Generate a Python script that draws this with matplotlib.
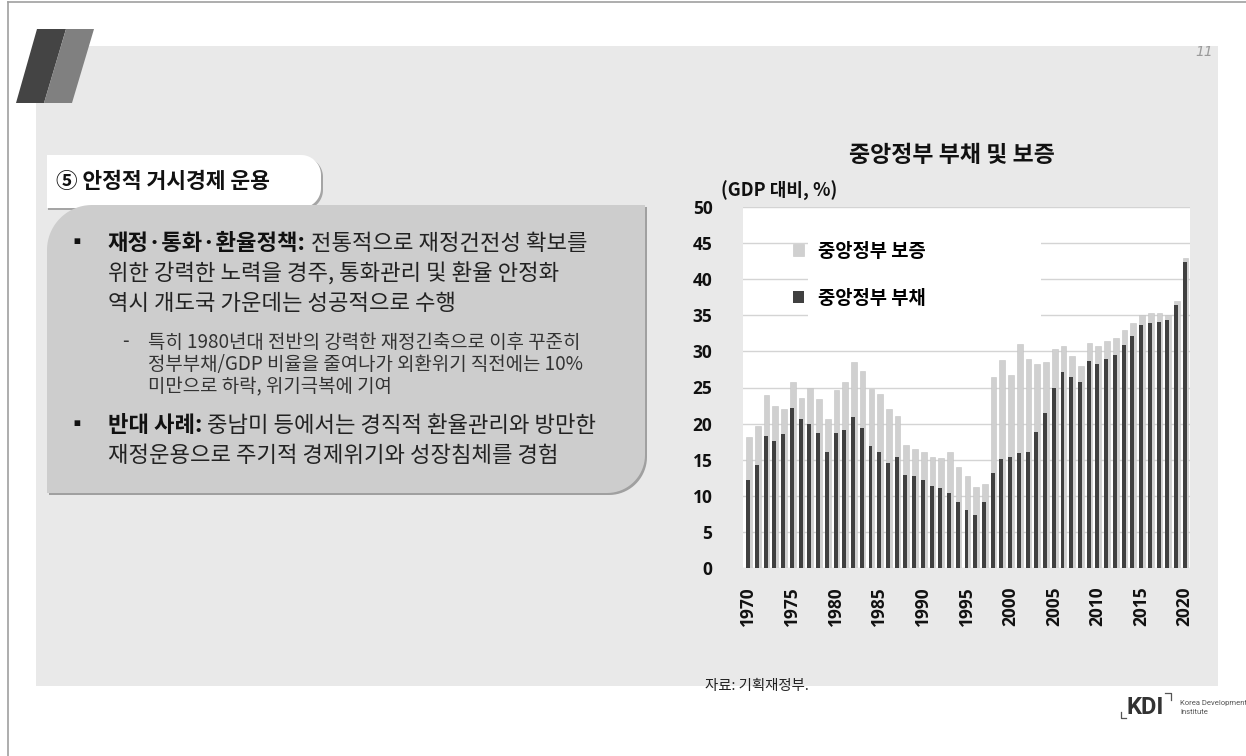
import matplotlib.pyplot as plt
import numpy as np
from matplotlib.patches import Polygon, Rectangle

plt.rcParams['font.family'] = ['Noto Sans CJK KR', 'DejaVu Sans']

# Data (% of GDP)
years = np.arange(1970, 2021)
debt = [12.2, 14.2, 18.3, 17.6, 18.5, 22.2, 20.7, 20.0, 18.7, 16.0,
        18.7, 19.1, 20.9, 19.4, 16.9, 16.1, 14.5, 15.4, 12.9, 12.7,
        12.2, 11.3, 11.1, 10.4, 9.2, 8.1, 7.4, 9.2, 13.2, 15.1,
        15.4, 15.9, 16.1, 18.8, 21.5, 24.9, 27.1, 26.5, 25.8, 28.7,
        28.3, 29.0, 29.5, 30.9, 32.2, 33.6, 34.0, 34.1, 34.3, 36.4, 42.4]
guarantee = [5.9, 5.5, 5.6, 4.9, 3.5, 3.6, 2.8, 5.0, 4.7, 4.6,
             5.9, 6.7, 7.6, 7.9, 7.9, 8.0, 7.5, 5.6, 4.1, 3.8,
             3.8, 4.1, 4.1, 5.6, 4.8, 4.6, 3.8, 2.4, 13.3, 13.7,
             11.3, 15.1, 12.9, 9.5, 7.1, 5.5, 3.6, 2.9, 2.2, 2.4,
             2.4, 2.4, 2.3, 2.1, 1.7, 1.4, 1.3, 1.2, 0.8, 0.6, 0.5]
labels = ['중앙정부 보증', '중앙정부 부채']
yticks = np.arange(0, 51, 5)
xticks = np.arange(1970, 2021, 5)

W, H = 1246, 756
fig = plt.figure(figsize=(W / 100, H / 100), dpi=100)
fig.patch.set_facecolor('white')

# slide background, pixel coordinates
bg = fig.add_axes([0, 0, 1, 1])
bg.set_xlim(0, W)
bg.set_ylim(H, 0)
bg.axis('off')


def rounded(x0, y0, x1, y1, r_tl=0, r_tr=0, r_br=0, r_bl=0, n=20):
    pts = []
    corners = [((x0 + r_tl, y0 + r_tl), r_tl, 180, 270),
               ((x1 - r_tr, y0 + r_tr), r_tr, 270, 360),
               ((x1 - r_br, y1 - r_br), r_br, 0, 90),
               ((x0 + r_bl, y1 - r_bl), r_bl, 90, 180)]
    for (cx, cy), r, a0, a1 in corners:
        t = np.radians(np.linspace(a0, a1, n))
        pts += list(zip(cx + r * np.cos(t), cy + r * np.sin(t)))
    return pts


# frame lines and gray panel
bg.plot([8, 8], [2, H], color='#a0a0a0', lw=1.2)
bg.plot([8, W], [2, 2], color='#a0a0a0', lw=1.2)
bg.add_patch(Rectangle((36, 46), 1182, 640, color='#e9e9e9', lw=0))

# corner logo
bg.add_patch(Polygon([(37, 29), (66, 29), (44, 103), (16, 103)], color='#444444', lw=0))
bg.add_patch(Polygon([(66, 29), (94, 29), (72, 103), (44, 103)], color='#808080', lw=0))
bg.text(1195, 52, '11', fontsize=10, style='italic', color='#9a9a9a',
        ha='left', va='center', family='DejaVu Sans')

# title tab
bg.add_patch(Polygon(rounded(48, 157, 323, 210, r_tr=20, r_br=20), color='#a5a5a5', lw=0))
bg.add_patch(Polygon(rounded(47, 155, 321, 208, r_tr=20, r_br=20), color='white', lw=0))
bg.text(56, 182, '⑤ 안정적 거시경제 운용', fontsize=15.5, fontweight='bold',
        ha='left', va='center', color='#111111')

# text box
bg.add_patch(Polygon(rounded(49, 207, 647, 495, r_tl=45, r_br=38), color='#a0a0a0', lw=0))
bg.add_patch(Polygon(rounded(47, 205, 645, 493, r_tl=45, r_br=38), color='#cdcdcd', lw=0))

fig.canvas.draw()
rend = fig.canvas.get_renderer()


def mixed(x, y, bold, rest, size):
    t = bg.text(x, y, bold, fontsize=size, fontweight='bold', ha='left',
                va='center', color='#111111')
    bb = t.get_window_extent(rend)
    x2 = bg.transData.inverted().transform((bb.x1, 0))[0]
    bg.text(x2, y, rest, fontsize=size, ha='left', va='center', color='#222222')


main_fs = 16
bg.text(66, 243, '▪', fontsize=15, ha='left', va='center', color='#111111')
mixed(108, 243, '재정·통화·환율정책:', ' 전통적으로 재정건전성 확보를', main_fs)
bg.text(108, 274, '위한 강력한 노력을 경주, 통화관리 및 환율 안정화', fontsize=main_fs,
        ha='left', va='center', color='#222222')
bg.text(108, 304, '역시 개도국 가운데는 성공적으로 수행', fontsize=main_fs,
        ha='left', va='center', color='#222222')

sub_fs = 13.6
bg.text(122, 342, '-', fontsize=sub_fs, ha='left', va='center', color='#333333')
for i, line in enumerate(['특히 1980년대 전반의 강력한 재정긴축으로 이후 꾸준히',
                          '정부부채/GDP 비율을 줄여나가 외환위기 직전에는 10%',
                          '미만으로 하락, 위기극복에 기여']):
    bg.text(148, 342 + 22.5 * i, line, fontsize=sub_fs, ha='left', va='center',
            color='#333333')

bg.text(66, 425, '▪', fontsize=15, ha='left', va='center', color='#111111')
mixed(108, 425, '반대 사례:', ' 중남미 등에서는 경직적 환율관리와 방만한', main_fs)
bg.text(108, 456, '재정운용으로 주기적 경제위기와 성장침체를 경험', fontsize=main_fs,
        ha='left', va='center', color='#222222')

# chart texts
bg.text(952, 156, '중앙정부 부채 및 보증', fontsize=16.5, fontweight='bold',
        ha='center', va='center', color='#111111')
bg.text(721, 191, '(GDP 대비, %)', fontsize=13, fontweight='bold',
        ha='left', va='center', color='#111111')
bg.text(705, 686, '자료: 기획재정부.', fontsize=10.4, ha='left', va='center', color='#222222')

# KDI logo
bg.text(1145, 708, 'KDI', fontsize=17, fontweight='bold', ha='center', va='center',
        color='#333333', family=['Roboto', 'DejaVu Sans'])
bg.plot([1165, 1171, 1171], [693, 693, 700], color='#555555', lw=0.9)
bg.plot([1121, 1121, 1126], [712, 718, 718], color='#555555', lw=0.9)
bg.text(1180, 703, 'Korea Development', fontsize=5.5, ha='left', va='center',
        color='#555555', family=['Roboto', 'DejaVu Sans'])
bg.text(1180, 712, 'Institute', fontsize=5.5, ha='left', va='center',
        color='#555555', family=['Roboto', 'DejaVu Sans'])

# chart
ax = fig.add_axes([743 / W, (H - 568) / H, 447 / W, 361 / H])
ax.set_facecolor('white')
light = ax.bar(years + 0.1, np.add(debt, guarantee), width=0.65, color='#d0d0d0',
               edgecolor='#c4c4c4', linewidth=0.4, zorder=2)
dark = ax.bar(years, debt, width=0.45, color='#404040', zorder=3)

ax.set_xlim(1969.4, 2020.6)
ax.set_ylim(0, 50)
ax.set_yticks(yticks)
ax.set_xticks(xticks)
ax.set_xticklabels([str(v) for v in xticks], rotation=90)
for lab in ax.get_xticklabels() + ax.get_yticklabels():
    lab.set_fontweight('bold')
    lab.set_fontsize(12.5)
    lab.set_color('#111111')
    lab.set_family(['Open Sans', 'DejaVu Sans'])
ax.tick_params(length=0)
ax.tick_params(axis='y', pad=22)
ax.tick_params(axis='x', pad=13)
ax.grid(axis='y', color='#d4d4d4', lw=1)
ax.set_axisbelow(True)
for s in ax.spines.values():
    s.set_visible(False)

ax.add_patch(Rectangle((0.146, 0.66), 0.52, 0.26, transform=ax.transAxes,
                       color='white', lw=0, zorder=1))
leg = ax.legend([light, dark], labels, loc='upper left', bbox_to_anchor=(0.09, 0.93),
                frameon=False, fontsize=13.5, handlelength=0.6, handleheight=0.6,
                labelspacing=1.5, handletextpad=0.75, borderpad=0)
for t in leg.get_texts():
    t.set_fontweight('bold')

fig.savefig('out.png', dpi=100)
